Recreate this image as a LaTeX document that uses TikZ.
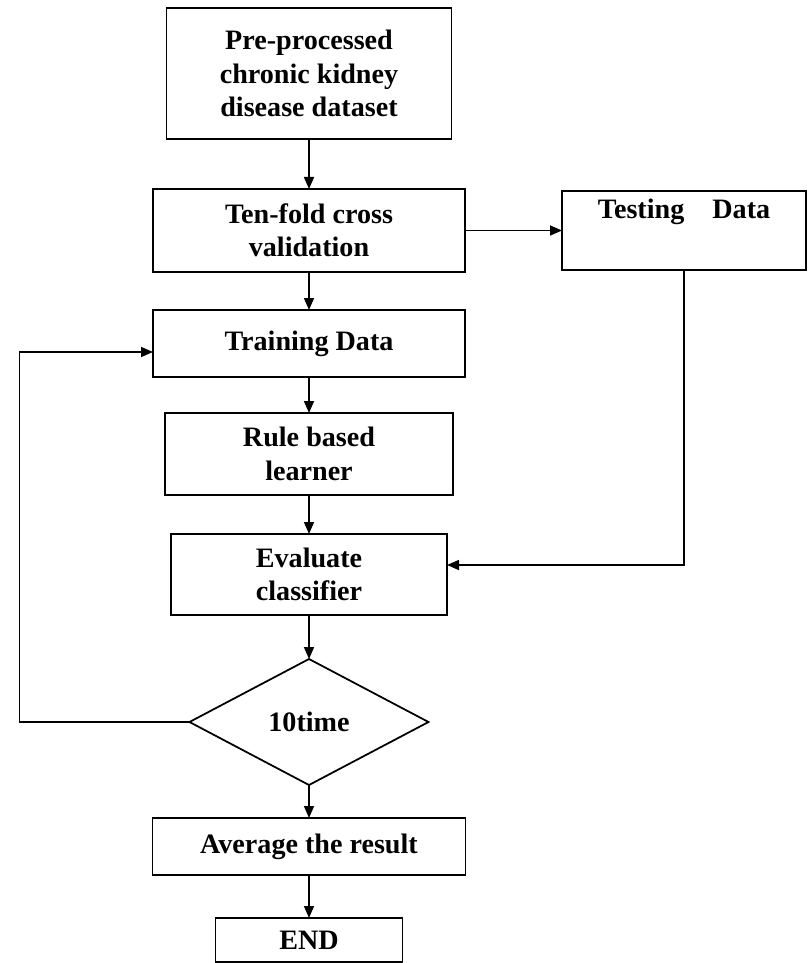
\documentclass[tikz,border=0pt]{standalone}
\usepackage{fontspec}
\setmainfont{Liberation Serif}
\usetikzlibrary{shapes.geometric, arrows.meta, positioning}
\tikzset{
	blk/.style ={rectangle, draw=black, line width=1pt, align=center, inner sep=2pt, outer sep=0pt},
	dec/.style ={diamond, draw=black, line width=1pt, minimum width=4.78cm, minimum height=2.52cm, inner sep=0pt, outer sep=0pt},
	sig/.style ={-{Triangle[length=2.4mm, width=2mm]}, line width=0.9pt},
}

\begin{document}
\begin{tikzpicture}[font=\fontsize{16}{19}\selectfont\bfseries]
	\useasboundingbox (0,0) rectangle (16.18,-19.26);
	% main column
	\node[blk, minimum width=5.7cm, minimum height=2.62cm] (pre) at (6.18,-1.47) {Pre-processed\\ chronic kidney\\ disease dataset};
	\node[blk, below=1.0cm of pre, minimum width=6.24cm, minimum height=1.66cm] (ten) {Ten-fold cross\\ validation};
	\node[blk, right=1.94cm of ten, minimum width=4.88cm, minimum height=1.58cm] (test) {Testing\hspace{1em}Data\\ \strut};
	\node[blk, below=0.76cm of ten, minimum width=6.24cm, minimum height=1.34cm] (train) {Training Data};
	\node[blk, below=0.72cm of train, minimum width=5.76cm, minimum height=1.64cm] (rule) {Rule based\\ learner};
	\node[blk, below=0.78cm of rule, minimum width=5.52cm, minimum height=1.62cm] (eval) {Evaluate\\ classifier};
	\node[dec, below=0.88cm of eval] (loop) {10time};
	\node[blk, below=0.66cm of loop, minimum width=6.26cm, minimum height=1.14cm] (avg) {Average the result};
	\node[blk, below=0.86cm of avg, minimum width=3.74cm, minimum height=0.88cm] (fin) {END};
	% connectors
	\draw[sig] (pre) -- (ten); \draw[sig] (ten.east) -- (ten.east -| test.west); \draw[sig] (ten) -- (train);
	\draw[sig] (train) -- (rule); \draw[sig] (rule) -- (eval); \draw[sig] (eval) -- (loop);
	\draw[sig] (test.south) |- ([yshift=0.19cm]eval.east);
	\draw[sig] (loop.west) -- ++(-3.4,0) |- ([yshift=-0.17cm]train.west);
	\draw[sig] (loop) -- (avg); \draw[sig] (avg) -- (fin);
\end{tikzpicture}
\end{document}
